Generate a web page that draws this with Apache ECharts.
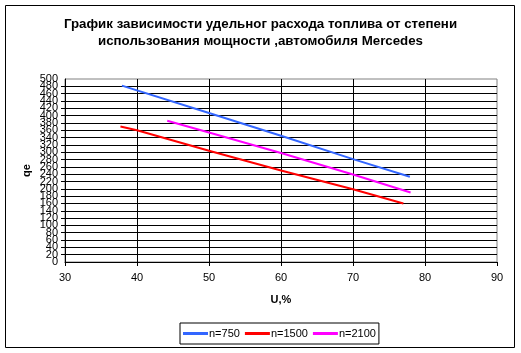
<!DOCTYPE html>
<html>
<head>
<meta charset="utf-8">
<script src="https://cdn.jsdelivr.net/npm/echarts@6/dist/echarts.min.js"></script>
<style>
  html, body { margin: 0; padding: 0; background: #fff; }
  #chart { width: 521px; height: 353px; }
</style>
</head>
<body>
<div id="chart"></div>
<script>
// values: [U %, qe]
const n750  = [[37.9, 482], [50, 407], [60, 345], [70, 281], [77.9, 233]];
const n1500 = [[37.7, 370], [40, 360], [50, 304], [60, 250], [70, 199], [77, 160]];
const n2100 = [[44.2, 386], [50, 354], [60, 298], [70, 239], [78, 190]];
const seriesNames = ['n=750', 'n=1500', 'n=2100'];
const seriesColors = ['#3366FF', '#FF0000', '#FF00FF'];
const qMin = 0, qMax = 500, qStep = 20;

const font = 'Arial, "Liberation Sans", sans-serif';
const chart = echarts.init(document.getElementById('chart'));

const lineSeries = [n750, n1500, n2100].map((data, i) => ({
    name: seriesNames[i],
    type: 'line',
    data: data,
    symbol: 'none',
    yAxisIndex: 0,
    lineStyle: { color: seriesColors[i], width: 2 },
    itemStyle: { color: seriesColors[i] },
    z: 5,
}));

const yLabelStyle = { fontFamily: font, fontSize: 11, color: '#000', margin: 7, interval: 0, hideOverlap: false };

chart.setOption({
    animation: false,
    backgroundColor: '#fff',
    title: {
        text: 'График зависимости удельног расхода топлива от степени\nиспользования мощности ,автомобиля Mercedes',
        left: 'center',
        top: 11,
        textStyle: { fontFamily: font, fontSize: 13.3, fontWeight: 'bold', color: '#000', lineHeight: 17 },
    },
    graphic: [{
        type: 'rect',
        shape: { x: 5.5, y: 5.5, width: 509, height: 342 },
        style: { fill: 'none', stroke: '#000', lineWidth: 1 },
        silent: true,
    }],
    legend: {
        left: 180,
        top: 323,
        padding: [5, 3, 5, 3],
        borderColor: '#000',
        borderWidth: 1,
        itemGap: 5,
        itemWidth: 25,
        itemHeight: 3,
        icon: 'rect',
        textStyle: { fontFamily: font, fontSize: 11, color: '#000', padding: [0, 0, 0, -4] },
        data: seriesNames,
    },
    grid: {
        left: 65,
        right: 24,
        top: 79,
        bottom: 91,
        show: true,
        borderColor: '#808080',
        borderWidth: 1,
        backgroundColor: '#fff',
    },
    xAxis: {
        type: 'value',
        min: 30,
        max: 90,
        interval: 10,
        name: 'U,%',
        nameLocation: 'middle',
        nameGap: 32,
        nameMoveOverlap: false,
        nameTextStyle: { fontFamily: font, fontSize: 11, fontWeight: 'bold', color: '#000' },
        axisLine: { show: true, lineStyle: { color: '#000', width: 1 } },
        axisTick: { show: true, inside: false, length: 4, lineStyle: { color: '#000' } },
        axisLabel: { fontFamily: font, fontSize: 11, color: '#000', margin: 10 },
        splitLine: { show: true, showMaxLine: false, showMinLine: false, lineStyle: { color: '#000', width: 1 } },
    },
    yAxis: [{
        type: 'value',
        min: qMin,
        max: qMax,
        interval: qStep,
        name: 'qe',
        nameLocation: 'middle',
        nameRotate: 90,
        nameGap: 33,
        nameMoveOverlap: false,
        nameTextStyle: { fontFamily: font, fontSize: 11, fontWeight: 'bold', color: '#000' },
        axisLine: { show: true, lineStyle: { color: '#000', width: 1 } },
        axisTick: { show: true, length: 4, lineStyle: { color: '#000' } },
        axisLabel: Object.assign({}, yLabelStyle, { showMinLabel: false, showMaxLabel: false }),
        splitLine: { show: true, showMaxLine: false, showMinLine: false, lineStyle: { color: '#000', width: 1 } },
    }, {
        // overlay axis only for the 0 and 500 labels (the first axis hides them on overlap)
        type: 'value',
        position: 'left',
        offset: 0,
        min: qMin,
        max: qMax,
        interval: qStep,
        axisLine: { show: false },
        axisTick: { show: false },
        splitLine: { show: false },
        axisLabel: Object.assign({}, yLabelStyle, {
            showMinLabel: true, showMaxLabel: true,
            formatter: v => (v === qMin || v === qMax ? String(v) : ''),
        }),
    }],
    series: lineSeries,
});
</script>
</body>
</html>
